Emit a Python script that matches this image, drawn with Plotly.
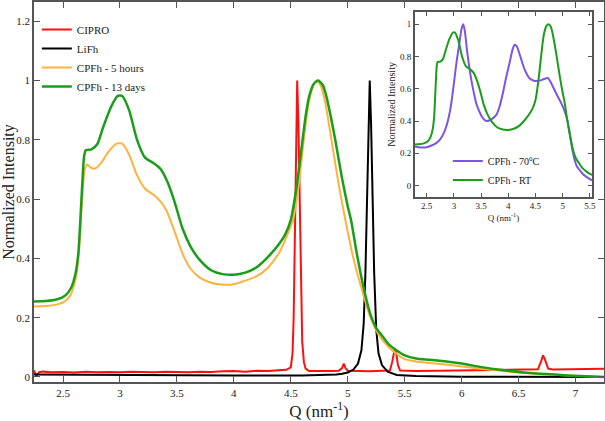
import plotly.graph_objects as go

# ---------------- data ----------------
cipro_q = [2.245, 2.255, 2.265, 2.275, 2.29, 2.32, 2.4, 2.5, 2.6, 2.7, 2.8, 2.9, 3.0, 3.1, 3.2, 3.3,
           3.4, 3.5, 3.6, 3.7, 3.8, 3.9, 4.0, 4.1, 4.2, 4.3, 4.4, 4.46, 4.50, 4.515, 4.525, 4.535,
           4.545, 4.556, 4.567, 4.578, 4.59, 4.60, 4.615, 4.63, 4.66, 4.75, 4.85, 4.92, 4.95, 4.965,
           4.98, 5.0, 5.1, 5.2, 5.3, 5.37, 5.39, 5.41, 5.425, 5.44, 5.46, 5.6, 5.8, 6.0, 6.2, 6.4,
           6.6, 6.67, 6.70, 6.715, 6.73, 6.76, 6.8, 7.0, 7.25]
cipro_i = [0.022, 0.015, 0.004, 0.008, 0.016, 0.018, 0.016, 0.017, 0.015, 0.018, 0.016, 0.017, 0.016,
           0.018, 0.017, 0.016, 0.018, 0.017, 0.016, 0.018, 0.017, 0.019, 0.020, 0.018, 0.021, 0.020,
           0.022, 0.024, 0.032, 0.08, 0.2, 0.5, 0.85, 1.0, 0.85, 0.55, 0.25, 0.12, 0.05, 0.028, 0.02,
           0.019, 0.02, 0.021, 0.03, 0.045, 0.03, 0.021, 0.02, 0.019, 0.021, 0.022, 0.05, 0.09, 0.085,
           0.04, 0.022, 0.02, 0.021, 0.022, 0.022, 0.023, 0.024, 0.026, 0.055, 0.073, 0.06, 0.028,
           0.025, 0.027, 0.028]

lifh_q = [2.245, 3.0, 4.0, 4.6, 4.8, 4.9, 4.95, 5.0, 5.05, 5.09, 5.12, 5.14, 5.155, 5.165, 5.18,
          5.193, 5.205, 5.22, 5.232, 5.25, 5.27, 5.3, 5.35, 5.43, 5.6, 6.0, 7.25]
lifh_i = [0.008, 0.006, 0.005, 0.005, 0.006, 0.008, 0.011, 0.015, 0.025, 0.045, 0.09, 0.18, 0.35,
          0.53, 0.85, 1.0, 0.85, 0.53, 0.35, 0.16, 0.08, 0.04, 0.018, 0.007, 0.003, 0.001, 0.0]

h5_q = [2.245, 2.35, 2.45, 2.52, 2.57, 2.61, 2.635, 2.655, 2.675, 2.69, 2.71, 2.75, 2.78, 2.83, 2.90,
        2.97, 3.02, 3.08, 3.15, 3.22, 3.30, 3.36, 3.41, 3.48, 3.55, 3.62, 3.70, 3.80, 3.91, 4.00,
        4.10, 4.20, 4.29, 4.40, 4.48, 4.52, 4.57, 4.62, 4.66, 4.70, 4.726, 4.76, 4.80, 4.857, 4.92,
        4.98, 5.05, 5.12, 5.19, 5.266, 5.36, 5.44, 5.50, 5.60, 5.72, 5.95, 6.16, 6.45, 6.74, 7.04, 7.25]
h5_i = [0.238, 0.239, 0.245, 0.256, 0.28, 0.33, 0.40, 0.52, 0.64, 0.70, 0.717, 0.705, 0.703, 0.72,
        0.76, 0.787, 0.787, 0.75, 0.68, 0.635, 0.613, 0.59, 0.56, 0.49, 0.415, 0.365, 0.335, 0.318,
        0.311, 0.313, 0.325, 0.34, 0.365, 0.42, 0.49, 0.53, 0.65, 0.82, 0.93, 0.985, 1.0, 0.985,
        0.93, 0.80, 0.65, 0.527, 0.40, 0.30, 0.21, 0.146, 0.10, 0.075, 0.06, 0.052, 0.047, 0.038,
        0.028, 0.017, 0.009, 0.003, 0.0]

d13_q = [2.245, 2.35, 2.45, 2.52, 2.57, 2.61, 2.635, 2.655, 2.67, 2.685, 2.70, 2.75, 2.80, 2.85, 2.92,
         2.98, 3.02, 3.08, 3.15, 3.22, 3.30, 3.36, 3.42, 3.48, 3.55, 3.62, 3.70, 3.80, 3.90, 4.00,
         4.10, 4.20, 4.30, 4.40, 4.45, 4.50, 4.55, 4.60, 4.63, 4.66, 4.70, 4.74, 4.78, 4.81, 4.85,
         4.89, 4.95, 5.00, 5.03, 5.08, 5.14, 5.20, 5.25, 5.30, 5.36, 5.44, 5.50, 5.60, 5.72, 5.85,
         5.95, 6.05, 6.16, 6.30, 6.45, 6.60, 6.74, 6.90, 7.04, 7.25]
d13_i = [0.255, 0.256, 0.262, 0.275, 0.30, 0.35, 0.42, 0.55, 0.66, 0.745, 0.765, 0.768, 0.785, 0.84,
         0.91, 0.948, 0.948, 0.90, 0.80, 0.74, 0.72, 0.70, 0.655, 0.59, 0.50, 0.44, 0.395, 0.36,
         0.347, 0.345, 0.352, 0.37, 0.405, 0.45, 0.48, 0.53, 0.64, 0.79, 0.88, 0.945, 0.988, 1.0,
         0.985, 0.95, 0.88, 0.80, 0.67, 0.575, 0.527, 0.415, 0.30, 0.21, 0.165, 0.14, 0.11, 0.087,
         0.073, 0.062, 0.058, 0.053, 0.048, 0.042, 0.034, 0.026, 0.019, 0.013, 0.010, 0.006, 0.003, 0.0]

t70_q = [2.28, 2.4, 2.5, 2.6, 2.68, 2.74, 2.82, 2.88, 2.92, 2.96, 3.0, 3.05, 3.1, 3.14, 3.17, 3.20,
         3.24, 3.28, 3.32, 3.37, 3.41, 3.48, 3.54, 3.60, 3.66, 3.72, 3.78, 3.84, 3.90, 3.96, 4.03,
         4.08, 4.12, 4.16, 4.24, 4.30, 4.39, 4.47, 4.55, 4.62, 4.70, 4.73, 4.78, 4.88, 4.96, 5.04,
         5.09, 5.13, 5.18, 5.22, 5.26, 5.31, 5.37, 5.43, 5.53, 5.54]
t70_i = [0.242, 0.236, 0.238, 0.25, 0.265, 0.283, 0.33, 0.39, 0.448, 0.53, 0.634, 0.77, 0.88, 0.97,
         1.0, 0.96, 0.84, 0.74, 0.655, 0.57, 0.51, 0.45, 0.415, 0.40, 0.405, 0.418, 0.438, 0.49,
         0.572, 0.67, 0.77, 0.845, 0.872, 0.86, 0.78, 0.72, 0.665, 0.65, 0.649, 0.655, 0.665, 0.667,
         0.64, 0.572, 0.52, 0.458, 0.40, 0.325, 0.22, 0.159, 0.12, 0.097, 0.072, 0.056, 0.035, 0.034]

main_xticks = [2.5, 3, 3.5, 4, 4.5, 5, 5.5, 6, 6.5, 7]
main_xlabels = ["2.5", "3", "3.5", "4", "4.5", "5", "5.5", "6", "6.5", "7"]
main_yticks = [0, 0.2, 0.4, 0.6, 0.8, 1, 1.2]
main_ylabels = ["0", "0.2", "0.4", "0.6", "0.8", "1", "1.2"]
inset_xticks = [2.5, 3, 3.5, 4, 4.5, 5, 5.5]
inset_xlabels = ["2.5", "3", "3.5", "4", "4.5", "5", "5.5"]
inset_yticks = [0, 0.2, 0.4, 0.6, 0.8, 1]
inset_ylabels = ["0", "0.2", "0.4", "0.6", "0.8", "1"]

# ---------------- figure ----------------
RED = "#ff1010"
BLACK = "#000000"
ORANGE = "#ffb23f"
GREEN = "#1a9e1a"
PURPLE = "#7b55e6"
FONT = "Liberation Serif"

fig = go.Figure()
fig.add_trace(go.Scatter(x=cipro_q, y=cipro_i, mode="lines", name="CIPRO",
                         line=dict(color=RED, width=2), legend="legend"))
fig.add_trace(go.Scatter(x=lifh_q, y=lifh_i, mode="lines", name="LiFh",
                         line=dict(color=BLACK, width=2), legend="legend"))
fig.add_trace(go.Scatter(x=h5_q, y=h5_i, mode="lines", name="CPFh - 5 hours",
                         line=dict(color=ORANGE, width=2, shape="spline", smoothing=0.6),
                         legend="legend"))
fig.add_trace(go.Scatter(x=d13_q, y=d13_i, mode="lines", name="CPFh - 13 days",
                         line=dict(color=GREEN, width=2.5, shape="spline", smoothing=0.6),
                         legend="legend"))

fig.add_trace(go.Scatter(x=t70_q, y=t70_i, mode="lines", name="CPFh - 70<sup>0</sup>C",
                         line=dict(color=PURPLE, width=2, shape="spline", smoothing=0.6),
                         xaxis="x2", yaxis="y2", legend="legend2"))
fig.add_trace(go.Scatter(x=d13_q, y=d13_i, mode="lines", name="CPFh - RT",
                         line=dict(color=GREEN, width=2, shape="spline", smoothing=0.6),
                         xaxis="x2", yaxis="y2", legend="legend2"))

axis_common = dict(showline=True, linecolor="#555555", linewidth=1.5, mirror="ticks",
                   ticks="inside", tickcolor="#555555", showgrid=False, zeroline=False,
                   automargin=False)

fig.update_layout(
    width=605, height=421,
    margin=dict(l=34, r=1, t=2, b=39, autoexpand=False),
    paper_bgcolor="white", plot_bgcolor="white",
    font=dict(family=FONT, color="#222222"),
    xaxis=dict(range=[2.245, 7.25], domain=[0, 1], tickvals=main_xticks, ticktext=main_xlabels,
               ticklen=6, tickfont=dict(size=11),
               title=dict(text="Q (nm<sup>-1</sup>)", font=dict(size=17), standoff=2),
               **axis_common),
    yaxis=dict(range=[-0.017, 1.265], domain=[0, 1], tickvals=main_yticks, ticktext=main_ylabels,
               ticklen=6, tickfont=dict(size=11),
               title=dict(text="Normalized Intensity", font=dict(size=16), standoff=2),
               **axis_common),
    xaxis2=dict(range=[2.28, 5.54], domain=[0.668, 0.979], anchor="y2",
                tickvals=inset_xticks, ticktext=inset_xlabels, ticklen=4, tickfont=dict(size=9),
                title=dict(text="Q (nm<sup>-1</sup>)", font=dict(size=9), standoff=2),
                **axis_common),
    yaxis2=dict(range=[-0.07, 1.076], domain=[0.487, 0.974], anchor="x2",
                tickvals=inset_yticks, ticktext=inset_ylabels, ticklen=4, tickfont=dict(size=9),
                title=dict(text="Normalized Intensity", font=dict(size=10), standoff=2),
                **axis_common),
    legend=dict(x=0.005, y=0.966, xanchor="left", yanchor="top", bgcolor="rgba(0,0,0,0)",
                font=dict(size=11, family=FONT), tracegroupgap=0),
    legend2=dict(x=0.726, y=0.62, xanchor="left", yanchor="top", bgcolor="rgba(0,0,0,0)",
                 font=dict(size=10, family=FONT), tracegroupgap=0),
    showlegend=True,
)

fig.write_html("out.html", config={"displayModeBar": False},
               post_script="document.body.style.margin='0';")
